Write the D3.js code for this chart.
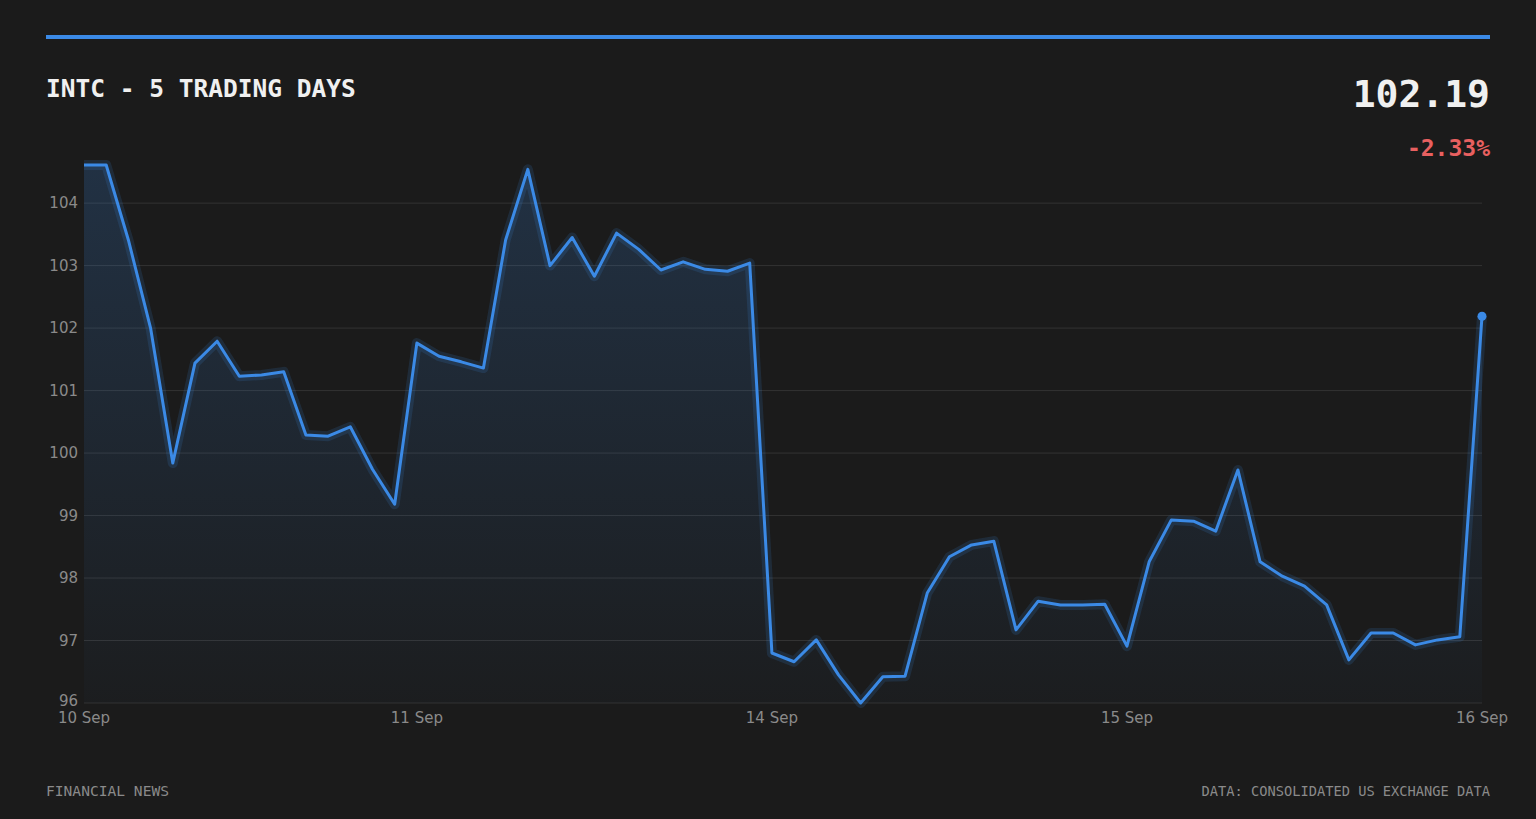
<!DOCTYPE html>
<html><head><meta charset="utf-8">
<script src="https://cdn.jsdelivr.net/npm/d3@7/dist/d3.min.js"></script>
<style>body{margin:0;background:#1b1b1b;}svg{display:block}</style></head>
<body><svg id="c" width="1536" height="819"></svg>
<script>
const title = "INTC - 5 TRADING DAYS";
const lastPrice = "102.19";
const changePct = "-2.33%";
const dayLabels = [{i:0,t:"10 Sep"},{i:15,t:"11 Sep"},{i:31,t:"14 Sep"},{i:47,t:"15 Sep"},{i:63,t:"16 Sep"}];
const yTicks = [96,97,98,99,100,101,102,103,104];
const prices = [104.61,104.61,103.41,102.0,99.84,101.44,101.79,101.23,101.25,101.3,100.29,100.27,100.42,99.74,99.18,
101.76,101.55,101.46,101.36,103.41,104.54,103.0,103.45,102.83,103.52,103.26,102.93,103.06,102.94,102.91,103.04,
96.8,96.66,97.01,96.45,96.0,96.42,96.43,97.76,98.34,98.53,98.59,97.17,97.63,97.57,97.57,97.58,
96.91,98.26,98.93,98.91,98.75,99.73,98.26,98.03,97.87,97.57,96.69,97.12,97.12,96.93,97.01,97.06,102.19];

const svg = d3.select("#c");
const L=84,R=1482,T=165,B=703;
const x = d3.scaleLinear().domain([0,prices.length-1]).range([L,R]);
const y = d3.scaleLinear().domain([96,d3.max(prices)]).range([B,T]);
const mono = "'DejaVu Sans Mono', monospace";

svg.append("rect").attr("x",46).attr("y",35).attr("width",1444).attr("height",4).attr("fill","#3b8ae6");
svg.append("text").attr("x",46).attr("y",97).attr("fill","#f0f0f0").attr("font-family",mono).attr("font-weight","bold").attr("font-size",24.5).text(title);
svg.append("text").attr("x",1490).attr("y",107).attr("text-anchor","end").attr("fill","#f0f0f0").attr("font-family",mono).attr("font-weight","bold").attr("font-size",38).text(lastPrice);
svg.append("text").attr("x",1490).attr("y",156).attr("text-anchor","end").attr("fill","#e86060").attr("font-family",mono).attr("font-weight","bold").attr("font-size",23).text(changePct);

const g = svg.append("g");
yTicks.forEach(v=>{
  g.append("line").attr("x1",L).attr("x2",R).attr("y1",y(v)).attr("y2",y(v)).attr("stroke","#333").attr("stroke-width",1);
  g.append("text").attr("x",L-6).attr("y",y(v)+(v===96?3:5)).attr("text-anchor","end").attr("fill","#8a8a8a").attr("font-family","'DejaVu Sans',sans-serif").attr("font-size",15).text(v);
});
dayLabels.forEach(d=>{
  g.append("text").attr("x",x(d.i)).attr("y",723).attr("text-anchor","middle").attr("fill","#8a8a8a").attr("font-family","'DejaVu Sans',sans-serif").attr("font-size",15).text(d.t);
});

const defs = svg.append("defs");
const grad = defs.append("linearGradient").attr("id","ag").attr("x1",0).attr("x2",0).attr("y1",0).attr("y2",1);
grad.append("stop").attr("offset","0%").attr("stop-color","#3b8ae6").attr("stop-opacity",0.2);
grad.append("stop").attr("offset","100%").attr("stop-color","#3b8ae6").attr("stop-opacity",0.02);

const area = d3.area().x((d,i)=>x(i)).y0(B).y1(d=>y(d));
const line = d3.line().x((d,i)=>x(i)).y(d=>y(d));
g.append("path").datum(prices).attr("d",area).attr("fill","url(#ag)");
g.append("path").datum(prices).attr("d",line).attr("fill","none").attr("stroke","#3b8ae6").attr("stroke-opacity",0.15).attr("stroke-width",10).attr("stroke-linejoin","round");
g.append("path").datum(prices).attr("d",line).attr("fill","none").attr("stroke","#3b8ae6").attr("stroke-width",3).attr("stroke-linejoin","round");
g.append("circle").attr("cx",x(prices.length-1)).attr("cy",y(prices[prices.length-1])).attr("r",4.5).attr("fill","#3b8ae6");

svg.append("text").attr("x",46).attr("y",796).attr("fill","#8a8a8a").attr("font-family",mono).attr("font-size",14.6).text("FINANCIAL NEWS");
svg.append("text").attr("x",1490).attr("y",796).attr("text-anchor","end").attr("fill","#8a8a8a").attr("font-family",mono).attr("font-size",13.7).text("DATA: CONSOLIDATED US EXCHANGE DATA");
</script></body></html>
